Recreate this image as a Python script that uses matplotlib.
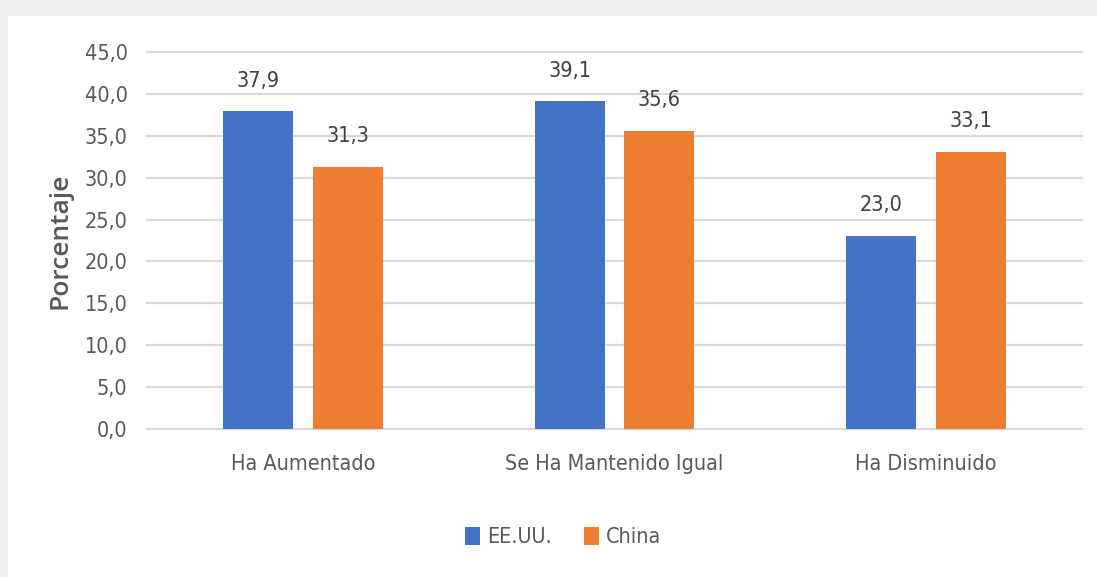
import matplotlib
matplotlib.use("Agg")
import matplotlib.pyplot as plt
import numpy as np

categorias = ["Ha Aumentado", "Se Ha Mantenido Igual", "Ha Disminuido"]
eeuu = [37.9, 39.1, 23.0]
china = [31.3, 35.6, 33.1]
series = ["EE.UU.", "China"]
yticks = [0, 5, 10, 15, 20, 25, 30, 35, 40, 45]

fuente = {"family": "DejaVu Sans", "stretch": "condensed"}
gris = "#595959"

fig = plt.figure(figsize=(10.97, 5.77), dpi=100, facecolor="white")
# gray border strips behind the chart panel
fig.patches.append(plt.Rectangle((0, 1 - 16 / 577), 1, 16 / 577, transform=fig.transFigure,
                                 facecolor="#efefef", edgecolor="none", zorder=-5))
fig.patches.append(plt.Rectangle((0, 0), 8 / 1097, 1, transform=fig.transFigure,
                                 facecolor="#efefef", edgecolor="none", zorder=-5))

ax = fig.add_axes([147 / 1097, 1 - 429 / 577, (1082 - 147) / 1097, (429 - 52) / 577])
ax.set_facecolor("white")

x = np.arange(len(categorias))
w = 0.224
off = 0.144
b1 = ax.bar(x - off, eeuu, w, color="#4472C4", label=series[0], zorder=3)
b2 = ax.bar(x + off, china, w, color="#ED7D31", label=series[1], zorder=3)

for barras in (b1, b2):
    for r in barras:
        v = r.get_height()
        ax.annotate(f"{v:.1f}".replace(".", ","), (r.get_x() + r.get_width() / 2, v),
                    xytext=(0, 15), textcoords="offset points", ha="center", va="bottom",
                    fontsize=15.5, color="#404040", **fuente)

ax.set_xlim(-0.5, 2.5)
ax.set_ylim(0, 45)
ax.set_yticks(yticks)
ax.set_yticklabels([f"{t:.1f}".replace(".", ",") for t in yticks], fontsize=15.5, color=gris,
                   **fuente)
ax.set_xticks(x)
ax.set_xticklabels(categorias, fontsize=15.5, color=gris, **fuente)
ax.tick_params(axis="both", length=0)
ax.tick_params(axis="x", pad=18)
ax.tick_params(axis="y", pad=14)
ax.grid(axis="y", color="#d9d9d9", linewidth=1.6, zorder=0)
for gl in ax.get_ygridlines():
    gl.set_clip_on(False)
for s in ax.spines.values():
    s.set_visible(False)

ax.set_ylabel("Porcentaje", fontsize=19, color=gris, fontweight="semibold",
              family=["Open Sans", "DejaVu Sans"], labelpad=9)

leg = fig.legend(handles=[b1, b2], labels=series, loc="center",
                 bbox_to_anchor=(563 / 1097, 1 - 537 / 577), ncol=2, frameon=False,
                 prop={"size": 15.5, **fuente}, handlelength=0.7, handleheight=0.9,
                 handletextpad=0.3, columnspacing=1.5)
for t in leg.get_texts():
    t.set_color(gris)

fig.savefig("out.png", dpi=100)
